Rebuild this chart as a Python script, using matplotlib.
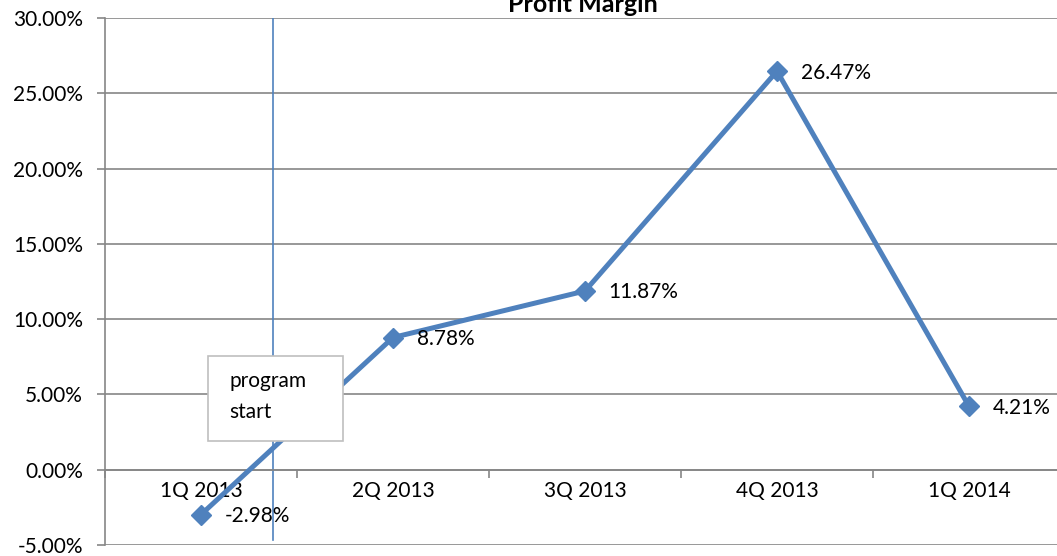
import matplotlib.pyplot as plt
from matplotlib.patches import Rectangle
import numpy as np

quarters = ['1Q 2013', '2Q 2013', '3Q 2013', '4Q 2013', '1Q 2014']
margin = [-2.98, 8.78, 11.87, 26.47, 4.21]
start_pos = 0.375  # program start, between 1Q and 2Q 2013

plt.rcParams['font.family'] = ['Lato', 'DejaVu Sans']

fig = plt.figure(figsize=(10.57, 5.56), dpi=100)
ax = fig.add_axes([105 / 1057, 11 / 556, 960 / 1057, 527 / 556])

blue = '#4F81BD'
grey = '#868686'
fs = 15

x = np.arange(len(quarters))
ax.set_xlim(-0.5, len(quarters) - 0.5)
ax.set_ylim(-5, 30)

yt = np.arange(-5, 31, 5)
ax.set_yticks(yt)
ax.set_yticklabels([f'{v:.2f}%' for v in yt])
for v in yt:
    ax.axhline(v, color=grey, lw=1.2, zorder=1)

ax.set_xticks(x)
ax.set_xticklabels(quarters)
ax.set_xticks(np.arange(-0.5, len(quarters)), minor=True)
ax.tick_params(axis='x', which='major', length=0, pad=8, labelsize=fs)
ax.tick_params(axis='x', which='minor', length=6, width=1.2, color=grey, direction='out')
ax.tick_params(axis='y', length=6, width=1.2, color=grey, pad=10, labelsize=fs)

for s in ['top', 'right']:
    ax.spines[s].set_visible(False)
ax.spines['left'].set_color(grey)
ax.spines['left'].set_linewidth(1.2)
ax.spines['bottom'].set_position(('data', 0))
ax.spines['bottom'].set_color(grey)
ax.spines['bottom'].set_linewidth(1.2)

ax.plot([start_pos, start_pos], [-4.7, 30], color=blue, lw=1.2, zorder=2)

ax.plot(x, margin, color=blue, lw=3.6, marker='D', markersize=10, zorder=3,
        clip_on=False)
for xi, v in zip(x, margin):
    ax.annotate(f'{v:.2f}%', (xi, v), xytext=(17, -1), textcoords='offset points',
                ha='left', va='center', fontsize=fs)

# callout box
ax.add_patch(Rectangle((0.036, 1.91), 0.704, 5.64, fc='white', ec='#BFBFBF',
                       lw=1.2, zorder=5))
ax.text(0.146, 4.86, 'program\nstart', fontsize=fs, ha='left', va='center',
        linespacing=1.65, zorder=6)

fig.text(583 / 1057, 1 - 12 / 556, 'Profit Margin', ha='center', va='baseline',
         fontsize=18, fontweight='bold')

fig.savefig('out.png', dpi=100)
